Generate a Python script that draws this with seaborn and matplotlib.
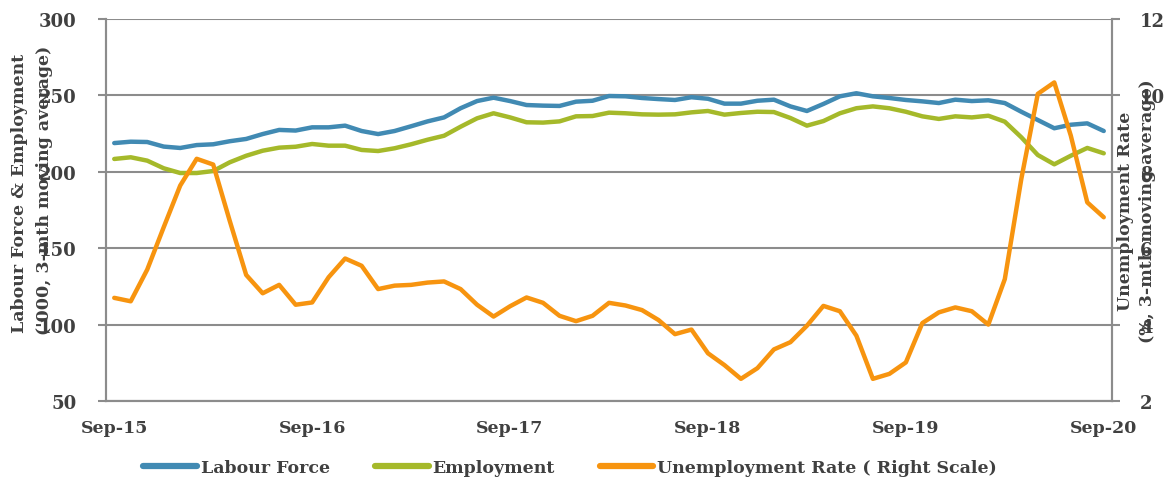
import numpy as np
import pandas as pd
import seaborn as sns
import matplotlib.pyplot as plt
from matplotlib.ticker import FixedLocator

# monthly data, Sep-15 .. Sep-20 (3-month moving averages)
months = pd.date_range("2015-09-01", periods=61, freq="MS").strftime("%b-%y").tolist()

labour_force = [218.8, 219.7, 219.5, 216.5, 215.6, 217.5, 218.0, 220.0, 221.5, 224.7,
                227.4, 227.0, 229.1, 229.1, 230.2, 226.7, 224.7, 226.7, 229.8, 233.0,
                235.6, 241.6, 246.3, 248.5, 246.3, 243.7, 243.3, 243.1, 245.9, 246.5,
                249.6, 249.4, 248.3, 247.6, 247.0, 248.8, 247.8, 244.6, 244.6, 246.5,
                247.2, 242.8, 239.8, 244.4, 249.4, 251.4, 249.4, 248.3, 247.0, 246.1,
                245.0, 247.2, 246.3, 246.8, 245.0, 239.3, 233.9, 228.5, 230.8, 231.7, 226.7]

employment = [208.4, 209.5, 207.3, 202.3, 199.2, 199.2, 200.5, 206.2, 210.5, 213.8,
              215.8, 216.4, 218.2, 217.1, 217.1, 214.3, 213.6, 215.4, 218.0, 221.0,
              223.6, 229.5, 235.0, 238.3, 235.6, 232.4, 232.2, 233.0, 236.3, 236.5,
              238.7, 238.3, 237.6, 237.4, 237.6, 238.9, 239.8, 237.4, 238.5, 239.3,
              239.1, 235.2, 230.2, 233.2, 238.3, 241.6, 242.8, 241.6, 239.3, 236.3,
              234.6, 236.3, 235.6, 236.7, 232.8, 222.6, 211.0, 204.9, 210.5, 215.6, 212.1]

unemp_rate = [4.70, 4.61, 5.44, 6.55, 7.64, 8.34, 8.19, 6.72, 5.30, 4.82,
              5.04, 4.52, 4.58, 5.24, 5.73, 5.54, 4.93, 5.02, 5.04, 5.10,
              5.13, 4.93, 4.52, 4.21, 4.48, 4.71, 4.57, 4.23, 4.09, 4.23,
              4.57, 4.50, 4.38, 4.12, 3.75, 3.87, 3.25, 2.94, 2.58, 2.86,
              3.35, 3.54, 3.97, 4.49, 4.35, 3.71, 2.58, 2.71, 3.01, 4.04,
              4.32, 4.45, 4.35, 4.00, 5.19, 7.81, 10.04, 10.34, 8.95, 7.20, 6.81]

xtick_labels = ["Sep-15", "Sep-16", "Sep-17", "Sep-18", "Sep-19", "Sep-20"]

df = pd.DataFrame({"month": months, "idx": np.arange(len(months)),
                   "Labour Force": labour_force, "Employment": employment,
                   "Unemployment Rate ( Right Scale)": unemp_rate})

sns.set_style("white")
plt.rcParams["font.family"] = ["DejaVu Serif"]
plt.rcParams["font.weight"] = "bold"

txt = "#404040"
grid_c = "#8c8c8c"
c_blue, c_green, c_orange = "#418ab3", "#a5b92a", "#f7940f"

fig = plt.figure(figsize=(11.66, 4.85), dpi=100)
ax = fig.add_axes([106/1166, 1-402/485, (1112-106)/1166, 382/485])
ax2 = ax.twinx()

sns.lineplot(data=df, x="idx", y="Labour Force", ax=ax, color=c_blue, lw=3.2, label="Labour Force", legend=False)
sns.lineplot(data=df, x="idx", y="Employment", ax=ax, color=c_green, lw=3.2, label="Employment", legend=False)
sns.lineplot(data=df, x="idx", y="Unemployment Rate ( Right Scale)", ax=ax2, color=c_orange, lw=3.2,
             label="Unemployment Rate ( Right Scale)", legend=False)

ax.set_xlim(-0.5, len(months) - 0.5)
ax.set_ylim(50, 300)
ax.set_yticks(range(50, 301, 50))
ax2.set_ylim(2, 12)
ax2.set_yticks(range(2, 13, 2))

ax.set_xticks([0, 12, 24, 36, 48, 60])
ax.set_xticklabels(xtick_labels)
ax.xaxis.set_minor_locator(FixedLocator(np.arange(-0.5, 60, 6)))
ax.tick_params(axis="x", which="major", length=0, pad=13, labelsize=12.5, labelcolor=txt)
ax.tick_params(axis="x", which="minor", length=6, width=1.5, color=grid_c, direction="out")
ax.tick_params(axis="y", length=6, width=1.5, color=grid_c, labelsize=13, labelcolor=txt, pad=15, left=True)
ax2.tick_params(axis="y", length=6, width=1.5, color=grid_c, labelsize=13, labelcolor=txt, pad=14, right=True)

ax.grid(axis="y", color=grid_c, lw=1.5)
ax.set_axisbelow(True)
for a in (ax, ax2):
    a.spines["top"].set_visible(False)
    for s in ("left", "right", "bottom"):
        a.spines[s].set_color(grid_c)
        a.spines[s].set_linewidth(1.5)
ax.set_xlabel("")
ax.set_ylabel("")
ax2.set_ylabel("")

# axis titles (they overlap the tick labels, as in the original)
fig.text(20/1166, 1-193/485, "Labour Force & Employment", rotation=90, ha="center", va="center",
         fontsize=12.5, color=txt, fontweight="bold")
fig.text(45/1166, 1-190/485, "('000, 3-mth moving average)", rotation=90, ha="center", va="center",
         fontsize=12.5, color=txt, fontweight="bold")
fig.text(1125/1166, 1-211/485, "Unemployment Rate", rotation=90, ha="center", va="center",
         fontsize=12.5, color=txt, fontweight="bold")
fig.text(1148/1166, 1-211/485, "(%, 3-mth moving average)", rotation=90, ha="center", va="center",
         fontsize=12.5, color=txt, fontweight="bold")

h1, l1 = ax.get_legend_handles_labels()
h2, l2 = ax2.get_legend_handles_labels()
leg = fig.legend(h1 + h2, l1 + l2, loc="center", bbox_to_anchor=(570/1166, 1-469/485), ncol=3,
                 frameon=False, fontsize=12.5, handlelength=3.1, handletextpad=0.2, columnspacing=2.6)
for t in leg.get_texts():
    t.set_color(txt)
for lh in leg.get_lines():
    lh.set_linewidth(4.5)

fig.savefig("out.png", dpi=100)
